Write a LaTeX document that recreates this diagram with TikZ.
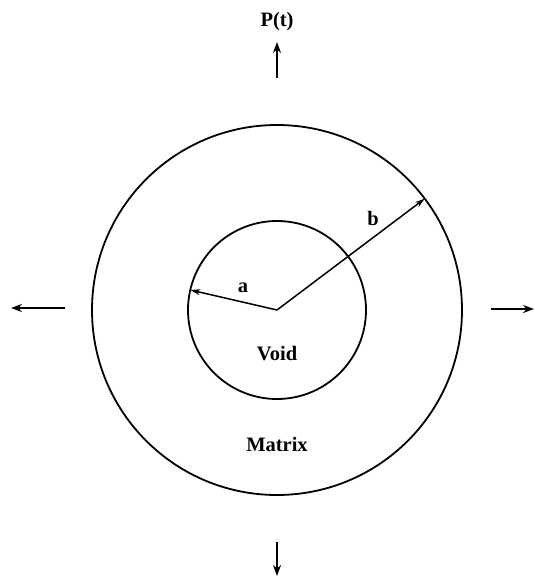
\documentclass[tikz,border=0pt]{standalone}
\usepackage{fontspec}
\setmainfont{Liberation Serif}
\usetikzlibrary{arrows.meta}

\begin{document}
\begin{tikzpicture}[x=1pt,y=-1pt,>=Stealth,
    ring/.style={circle,draw,line width=1.8pt,inner sep=0pt,outer sep=0pt},
    lbl/.style={font=\bfseries\fontsize{20.5}{24}\selectfont,inner sep=1pt},
    load/.style={->,line width=2.8pt,>={Stealth[length=11pt,width=8pt]}},
    rad/.style={->,line width=1.5pt,>={Stealth[length=10pt,width=6pt]}}]
    \useasboundingbox (0,0) rectangle (535,578);
    \coordinate (O) at (277,310);
    \node[ring,minimum size=370pt] (matrix) at (O) {};
    \node[ring,minimum size=178pt] (void) at (O) {};
    % radii
    \draw[rad] (O) -- (void.167);
    \draw[rad] (O) -- (matrix.37);
    \node[lbl] (la) at (243,288) {a};
    \node[lbl] (lb) at (373,218) {b};
    \node[lbl] (lvoid) at (277,354) {Void};
    \node[lbl] (lmatrix) at (277,444) {Matrix};
    % applied load
    \node[lbl] (lp) at (277,22) {P(t)};
    \coordinate (nt) at (277,78);  \coordinate (nh) at (277,42);
    \coordinate (wt) at (65,308);  \coordinate (wh) at (11,308);
    \coordinate (et) at (491,309); \coordinate (eh) at (534,309);
    \coordinate (st) at (277,542); \coordinate (sh) at (277,576);
    \draw[load] (nt)--(nh);\draw[load] (wt)--(wh);
    \draw[load] (et)--(eh);\draw[load] (st)--(sh);
\end{tikzpicture}
\end{document}
